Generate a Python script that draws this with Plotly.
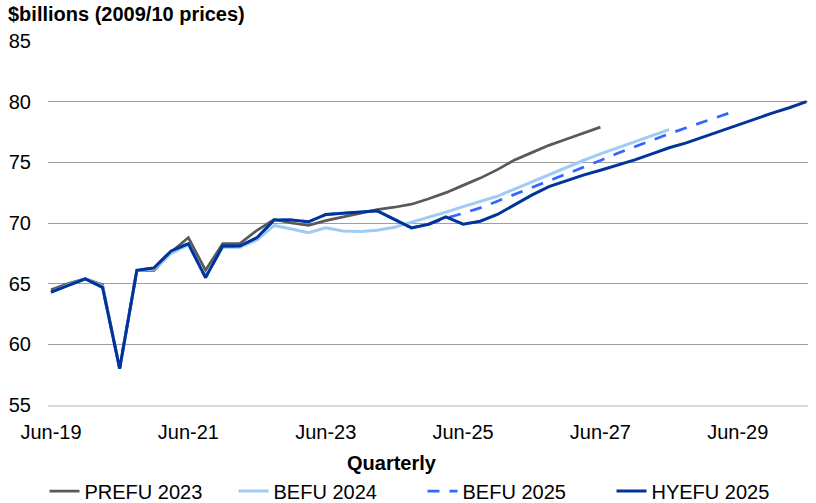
import plotly.graph_objects as go

quarters = []
for yr in range(19, 31):
    for m in ["Mar", "Jun", "Sep", "Dec"]:
        quarters.append(f"{m}-{yr}")
quarters = quarters[1:46]  # Jun-19 .. Jun-30 (45 quarters)

tick_labels = ["Jun-19", "Jun-21", "Jun-23", "Jun-25", "Jun-27", "Jun-29"]
y_ticks = [55, 60, 65, 70, 75, 80, 85]

prefu_2023 = [64.5, 65.0, 65.4, 64.9, 58.0, 66.1, 66.1, 67.6, 68.8, 66.1, 68.3, 68.3, 69.4, 70.3,
              70.0, 69.8, 70.2, 70.5, 70.8, 71.1, 71.3, 71.55, 72.0, 72.5, 73.1, 73.7, 74.4, 75.2,
              75.8, 76.4, 76.9, 77.4, 77.9]

befu_2024 = [64.3, 64.9, 65.4, 64.8, 58.0, 66.1, 66.2, 67.5, 68.2, 65.6, 68.0, 68.0, 68.6, 69.8,
             69.5, 69.2, 69.6, 69.35, 69.3, 69.4, 69.65, 70.05, 70.45, 70.9, 71.35, 71.8, 72.2,
             72.8, 73.4, 73.95, 74.55, 75.15, 75.7, 76.2, 76.7, 77.2, 77.7]

befu_2025 = [64.3, 64.85, 65.4, 64.7, 58.0, 66.1, 66.3, 67.7, 68.3, 65.5, 68.1, 68.1, 68.8, 70.25,
             70.25, 70.1, 70.7, 70.8, 70.9, 71.0, 70.3, 69.6, 69.9, 70.4, 70.8, 71.25, 71.8, 72.35,
             72.95, 73.5, 74.05, 74.6, 75.15, 75.75, 76.3, 76.85, 77.35, 77.85, 78.35, 78.85, 79.3]

hyefu_2025 = [64.3, 64.85, 65.4, 64.7, 58.0, 66.1, 66.3, 67.7, 68.3, 65.5, 68.1, 68.1, 68.8, 70.25,
              70.25, 70.1, 70.7, 70.8, 70.9, 71.0, 70.3, 69.6, 69.9, 70.5, 69.9, 70.15, 70.7, 71.5,
              72.3, 73.0, 73.5, 73.95, 74.35, 74.75, 75.2, 75.7, 76.2, 76.6, 77.1, 77.6, 78.1, 78.6,
              79.05, 79.5, 80.0]

FONT = "Liberation Sans, Arial, sans-serif"

fig = go.Figure()
fig.add_trace(go.Scatter(x=quarters[:len(prefu_2023)], y=prefu_2023, name="PREFU 2023",
                         mode="lines", line=dict(color="#595959", width=2.75)))
fig.add_trace(go.Scatter(x=quarters[:len(befu_2024)], y=befu_2024, name="BEFU 2024",
                         mode="lines", line=dict(color="#9fcbf7", width=3)))
fig.add_trace(go.Scatter(x=quarters[:len(befu_2025)], y=befu_2025, name="BEFU 2025",
                         mode="lines", line=dict(color="#3366ff", width=2.75, dash="12px,10px")))
fig.add_trace(go.Scatter(x=quarters[:len(hyefu_2025)], y=hyefu_2025, name="HYEFU 2025",
                         mode="lines", line=dict(color="#00349a", width=3)))

fig.update_layout(
    width=816, height=503,
    margin=dict(l=48, r=8, t=41, b=98),
    paper_bgcolor="white", plot_bgcolor="white",
    font=dict(family=FONT, size=20, color="black"),
    showlegend=True,
    legend=dict(orientation="h", xref="container", yref="container",
                x=44.5/816, y=1-491/503, xanchor="left", yanchor="middle",
                font=dict(size=20), entrywidth=144, entrywidthmode="pixels",
                tracegroupgap=0, itemwidth=30),
    xaxis=dict(type="category", categoryorder="array", categoryarray=quarters,
               range=[-0.175, 44.09], tickmode="array", tickvals=tick_labels,
               ticktext=tick_labels, showgrid=False, showline=True,
               linecolor="#d9d9d9", linewidth=2, ticks="", ticklabelstandoff=8,
               tickfont=dict(size=20)),
    yaxis=dict(range=[55, 85], tickmode="array", tickvals=y_ticks, showgrid=True,
               gridcolor="#a0a0a0", gridwidth=1, zeroline=False, showline=False,
               ticks="", ticklabelstandoff=16, tickfont=dict(size=20)),
    title=dict(text="<b>$billions (2009/10 prices)</b>", xref="container", yref="container",
               x=8/816, y=1-14/503, xanchor="left", yanchor="middle",
               font=dict(size=20, family=FONT)),
    annotations=[dict(text="<b>Quarterly</b>", xref="paper", yref="paper",
                      x=(392-48)/760, y=(405-463)/364, xanchor="center", yanchor="middle",
                      showarrow=False, font=dict(size=20, family=FONT))],
)

fig.write_html("out.html")
